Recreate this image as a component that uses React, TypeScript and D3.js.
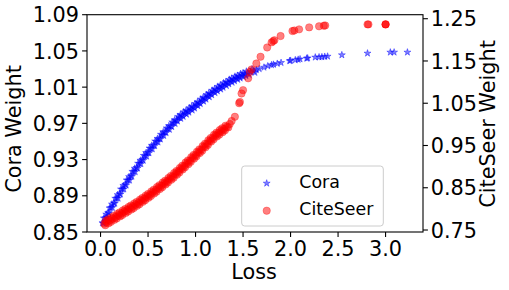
import React from "react";
import * as d3 from "d3";

const coraLoss = [0.02,0.05,0.08,0.11,0.14,0.17,0.20,0.23,0.26,0.29,0.32,0.35,0.38,0.41,0.44,0.47,0.50,0.53,0.56,0.59,0.62,0.65,0.68,0.71,0.74,0.77,0.80,0.83,0.86,0.89,0.92,0.95,0.98,1.01,1.04,1.07,1.10,1.13,1.16,1.19,1.22,1.25,1.28,1.31,1.34,1.37,1.40,1.43,1.46,1.49,1.52,1.55,1.58,1.61,1.64,1.67,1.72,1.76,1.80,1.82,1.86,1.90,1.99,2.00,2.05,2.08,2.10,2.17,2.18,2.26,2.30,2.33,2.36,2.39,2.54,2.81,3.05,3.09,3.23];
const coraWeight = [0.8600,0.8655,0.8712,0.8768,0.8820,0.8872,0.8922,0.8973,0.9023,0.9072,0.9120,0.9166,0.9211,0.9255,0.9298,0.9340,0.9381,0.9421,0.9460,0.9498,0.9535,0.9571,0.9606,0.9640,0.9673,0.9705,0.9736,0.9765,0.9790,0.9812,0.9835,0.9858,0.9881,0.9905,0.9930,0.9955,0.9980,1.0004,1.0028,1.0051,1.0072,1.0092,1.0112,1.0131,1.0150,1.0168,1.0185,1.0201,1.0216,1.0230,1.0243,1.0256,1.0268,1.0280,1.0291,1.0302,1.0318,1.0333,1.0345,1.0350,1.0360,1.0370,1.0390,1.0393,1.0400,1.0405,1.0410,1.0418,1.0420,1.0430,1.0432,1.0433,1.0437,1.0440,1.0455,1.0474,1.0485,1.0485,1.0485];
// further Cora points filling the dense band
const coraLossBand = [0.035,0.065,0.095,0.125,0.155,0.185,0.215,0.245,0.275,0.305,0.335,0.365,0.395,0.425,0.455,0.485,0.515,0.545,0.575,0.605,0.635,0.665,0.695,0.725,0.755,0.785,0.815,0.845,0.875,0.905,0.935,0.965,0.995,1.025,1.055,1.085,1.115,1.145,1.175,1.205,1.235,1.265,1.295,1.325,1.355,1.385,1.415,1.445,1.475,1.505,1.535,1.565,1.595,1.625];
const coraWeightBand = [0.8653,0.8659,0.8765,0.8769,0.8871,0.8872,0.8973,0.8973,0.9073,0.9071,0.9168,0.9164,0.9258,0.9252,0.9344,0.9336,0.9426,0.9416,0.9504,0.9492,0.9578,0.9564,0.9648,0.9632,0.9714,0.9696,0.9775,0.9753,0.9826,0.9799,0.9871,0.9845,0.9918,0.9893,0.9967,0.9943,1.0017,0.9991,1.0064,1.0037,1.0107,1.0077,1.0146,1.0116,1.0184,1.0152,1.0218,1.0184,1.0248,1.0212,1.0274,1.0237,1.0299,1.0261];
const coraLossBand2 = [0.03,0.06,0.09,0.12,0.15,0.18,0.21,0.24,0.27,0.30,0.33,0.36,0.39,0.42,0.45,0.48,0.51,0.54,0.57,0.60,0.63,0.66,0.69,0.72,0.75,0.78,0.81,0.84,0.87,0.90,0.93,0.96,0.99,1.02,1.05,1.08,1.11,1.14,1.17,1.20,1.23,1.26,1.29,1.32,1.35,1.38,1.41,1.44,1.47,1.50,1.53];
const coraWeightBand2 = [0.8596,0.8696,0.8709,0.8807,0.8815,0.8911,0.8917,0.9012,0.9017,0.9110,0.9113,0.9203,0.9204,0.9291,0.9290,0.9376,0.9372,0.9456,0.9451,0.9532,0.9525,0.9605,0.9595,0.9673,0.9662,0.9737,0.9724,0.9795,0.9775,0.9842,0.9821,0.9888,0.9867,0.9935,0.9916,0.9985,0.9966,1.0034,1.0014,1.0080,1.0057,1.0121,1.0096,1.0159,1.0134,1.0196,1.0168,1.0228,1.0199,1.0256,1.0225];

const citeLoss = [0.04,0.07,0.10,0.13,0.16,0.19,0.22,0.25,0.28,0.31,0.34,0.37,0.40,0.43,0.46,0.49,0.52,0.55,0.58,0.61,0.64,0.67,0.70,0.73,0.76,0.79,0.82,0.85,0.88,0.91,0.94,0.97,1.00,1.03,1.06,1.09,1.12,1.15,1.18,1.21,1.24,1.27,1.30,1.33,1.36,1.38,1.414,1.459,1.467,1.484,1.50,1.554,1.57,1.59,1.64,1.684,1.754,1.80,1.817,1.83,1.895,2.02,2.04,2.09,2.196,2.30,2.35,2.365,2.81,2.82,3.0,3.0,3.0];
const citeWeight = [0.765,0.769,0.7730,0.7770,0.7810,0.7850,0.7893,0.7935,0.7975,0.8015,0.8057,0.8100,0.8145,0.8192,0.8240,0.8288,0.8337,0.8388,0.8440,0.8493,0.8546,0.8600,0.8655,0.8711,0.8768,0.8828,0.8889,0.8951,0.9014,0.9077,0.9141,0.9206,0.9271,0.9337,0.9404,0.9472,0.9540,0.9608,0.9675,0.9735,0.9790,0.9840,0.9890,0.9945,1.0010,1.0080,1.0180,1.0500,1.0530,1.0730,1.0810,1.1090,1.1240,1.1300,1.1440,1.1600,1.1820,1.1940,1.1970,1.1990,1.2090,1.2208,1.2220,1.2248,1.2295,1.2320,1.2335,1.2340,1.2366,1.2366,1.2366,1.2366,1.2366];
// further CiteSeer points filling the dense band
const citeLossBand = [0.055,0.085,0.115,0.145,0.175,0.205,0.235,0.265,0.295,0.325,0.355,0.385,0.415,0.445,0.475,0.505,0.535,0.565,0.595,0.625,0.655,0.685,0.715,0.745,0.775,0.805,0.835,0.865,0.895,0.925,0.955,0.985,1.015,1.045,1.075,1.105,1.135,1.165,1.195,1.225,1.255,1.285,1.315,1.345];
const citeWeightBand = [0.772,0.766,0.780,0.774,0.788,0.7822,0.7964,0.7905,0.8045,0.7986,0.8129,0.8073,0.8219,0.8166,0.8314,0.8263,0.8413,0.8364,0.8517,0.8470,0.8623,0.8578,0.8733,0.8690,0.8848,0.8809,0.8970,0.8933,0.9096,0.9059,0.9224,0.9189,0.9354,0.9321,0.9488,0.9456,0.9624,0.9592,0.9755,0.9713,0.9865,0.9815,0.9968,0.9928];
const citeLossBand2 = [0.05,0.08,0.11,0.14,0.17,0.20,0.23,0.26,0.29,0.32,0.35,0.38,0.41,0.44,0.47,0.50,0.53,0.56,0.59,0.62,0.65,0.68,0.71,0.74,0.77,0.80,0.83,0.86,0.89,0.92,0.95,0.98,1.01,1.04,1.07,1.10,1.13,1.16,1.19,1.22,1.25,1.28,1.31];
const citeWeightBand2 = [0.7613,0.7753,0.7693,0.7833,0.7773,0.7914,0.7857,0.7998,0.7938,0.8079,0.8021,0.8165,0.8111,0.8258,0.8206,0.8354,0.8304,0.8455,0.8408,0.8561,0.8514,0.8668,0.8624,0.8780,0.8738,0.8898,0.8860,0.9022,0.8985,0.9148,0.9113,0.9278,0.9243,0.9409,0.9377,0.9545,0.9513,0.9680,0.9645,0.9803,0.9757,0.9907,0.9858];

const xTicks = [0, 0.5, 1.0, 1.5, 2.0, 2.5, 3.0];
const leftTicks = [0.85, 0.89, 0.93, 0.97, 1.01, 1.05, 1.09];
const rightTicks = [0.75, 0.85, 0.95, 1.05, 1.15, 1.25];

const W = 509, H = 290;
const L = 87, R = 423, T = 14.7, B = 232;
const FONT = "DejaVu Sans, sans-serif";
const FS = 20.8;

export default function App() {
  const x = d3.scaleLinear().domain([-0.1425, 3.394]).range([L, R]);
  const yl = d3.scaleLinear().domain([0.85, 1.09]).range([B, T]);
  const yr = d3.scaleLinear().domain([0.7453, 1.2595]).range([B, T]);
  const star = d3.symbol().type(d3.symbolStar).size(15)() as string;
  const blue = "rgba(0,0,255,0.5)";
  const red = "rgba(255,0,0,0.5)";
  const pairs = (a: number[], b: number[]) => a.map((v, i) => [v, b[i]]);
  const cora = [...pairs(coraLoss, coraWeight), ...pairs(coraLossBand, coraWeightBand), ...pairs(coraLossBand2, coraWeightBand2)];
  const cite = [...pairs(citeLoss, citeWeight), ...pairs(citeLossBand, citeWeightBand), ...pairs(citeLossBand2, citeWeightBand2)];
  return (
    <svg width={W} height={H} style={{ position: "absolute", left: 0, top: 0, background: "#fff" }} fontFamily={FONT}>
      <rect x={0} y={0} width={W} height={H} fill="#fff" />
      <g>
        {cora.map((p, i) => (
          <path key={"c" + i} d={star} transform={`translate(${x(p[0])},${yl(p[1])})`} fill={blue} stroke={blue} strokeWidth={0.8} />
        ))}
      </g>
      <g>
        {cite.map((p, i) => (
          <circle key={"s" + i} cx={x(p[0])} cy={yr(p[1])} r={3.7} fill={red} stroke={red} strokeWidth={0.6} />
        ))}
      </g>
      <rect x={L} y={T} width={R - L} height={B - T} fill="none" stroke="#000" strokeWidth={1.1} />
      {xTicks.map((t) => (
        <g key={"x" + t}>
          <line x1={x(t)} x2={x(t)} y1={B} y2={B + 4.9} stroke="#000" strokeWidth={1.1} />
          <text x={x(t)} y={255.7} textAnchor="middle" fontSize={FS}>{t.toFixed(1)}</text>
        </g>
      ))}
      {leftTicks.map((t) => (
        <g key={"l" + t}>
          <line x1={L - 4.9} x2={L} y1={yl(t)} y2={yl(t)} stroke="#000" strokeWidth={1.1} />
          <text x={79} y={yl(t) + 7.6} textAnchor="end" fontSize={FS}>{t.toFixed(2)}</text>
        </g>
      ))}
      {rightTicks.map((t) => (
        <g key={"r" + t}>
          <line x1={R} x2={R + 4.9} y1={yr(t)} y2={yr(t)} stroke="#000" strokeWidth={1.1} />
          <text x={430.7} y={yr(t) + 7.6} textAnchor="start" fontSize={FS}>{t.toFixed(2)}</text>
        </g>
      ))}
      <text x={254} y={279} textAnchor="middle" fontSize={FS}>Loss</text>
      <text transform={`translate(21,129) rotate(-90)`} textAnchor="middle" fontSize={FS}>Cora Weight</text>
      <text transform={`translate(495,124) rotate(-90)`} textAnchor="middle" fontSize={FS}>CiteSeer Weight</text>
      <g>
        <rect x={241.7} y={166} width={141.6} height={60} rx={3} fill="rgba(255,255,255,0.8)" stroke="#cccccc" strokeWidth={1} />
        <path d={star} transform="translate(266.7,183.3)" fill={blue} stroke={blue} strokeWidth={0.8} />
        <circle cx={266.7} cy={210.7} r={3.7} fill={red} stroke={red} strokeWidth={0.6} />
        <text x={299.3} y={188.3} fontSize={17.4}>Cora</text>
        <text x={299.3} y={215} fontSize={17.4}>CiteSeer</text>
      </g>
    </svg>
  );
}
